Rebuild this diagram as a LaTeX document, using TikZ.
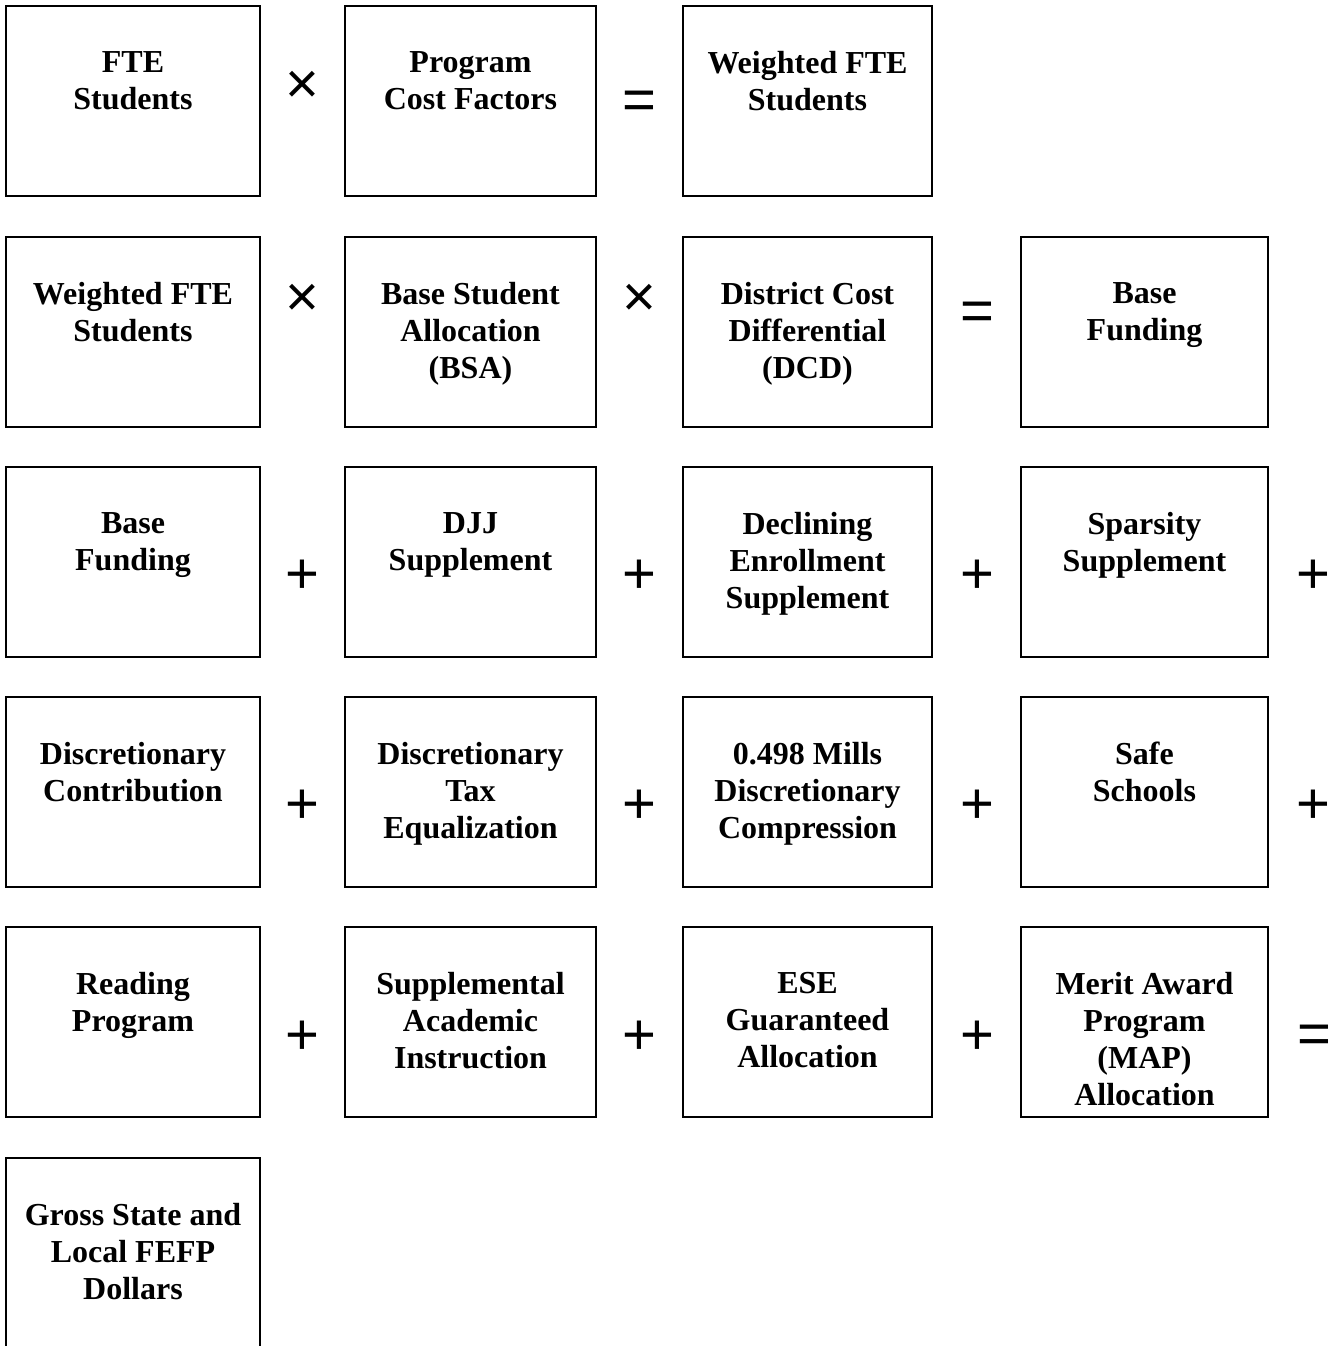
\documentclass[tikz,border=0pt]{standalone}
\usepackage{fontspec}
\setmainfont{Liberation Serif}
\newfontfamily\opfont{Liberation Sans}
\usepackage{tikz}
\usetikzlibrary{positioning}

\tikzset{
  cell/.style={draw, line width=2pt, inner sep=0pt, outer sep=0pt, minimum height=190pt},
  celltext/.style={anchor=north, align=center, inner sep=0pt, font=\bfseries\fontsize{32}{37}\selectfont},
  op/.style={inner sep=0pt, font=\opfont\fontsize{58}{58}\selectfont}
}

\begin{document}
\begin{tikzpicture}[x=1pt,y=-1pt]
\useasboundingbox (0,0) rectangle (1336,1346);
\clip (0,0) rectangle (1336,1346);

% row 1
\node[cell, minimum width=254pt] (fte) at (133,101) {};
\node[cell, minimum width=251pt] (pcf) at (470.5,101) {};
\node[cell, minimum width=249pt] (wfte) at (807.5,101) {};
\node[celltext] (fteT) at ([yshift=-45pt]fte.north) {FTE\\Students};
\node[celltext] (pcfT) at ([yshift=-45pt]pcf.north) {Program\\Cost Factors};
\node[celltext] (wfteT) at ([yshift=-45pt]wfte.north) {Weighted FTE\\Students};
\node[op] (op11) at (302,87) {×};
\node[op] (op12) at (639,105) {=};

% row 2
\node[cell, minimum width=254pt] (wfte2) at (133,332) {};
\node[cell, minimum width=251pt] (bsa) at (470.5,332) {};
\node[cell, minimum width=249pt] (dcd) at (807.5,332) {};
\node[cell, minimum width=247pt] (base) at (1144.5,332) {};
\node[celltext] (wfte2T) at ([yshift=-45pt]wfte2.north) {Weighted FTE\\Students};
\node[celltext] (bsaT) at ([yshift=-45pt]bsa.north) {Base Student\\Allocation\\(BSA)};
\node[celltext] (dcdT) at ([yshift=-45pt]dcd.north) {District Cost\\Differential\\(DCD)};
\node[celltext] (baseT) at ([yshift=-45pt]base.north) {Base\\Funding};
\node[op] (op21) at (302,300) {×};
\node[op] (op22) at (639,300) {×};
\node[op] (op23) at (977,316) {=};

% row 3
\node[cell, minimum width=254pt] (base2) at (133,562) {};
\node[cell, minimum width=251pt] (djj) at (470.5,562) {};
\node[cell, minimum width=249pt] (decl) at (807.5,562) {};
\node[cell, minimum width=247pt] (spars) at (1144.5,562) {};
\node[celltext] (base2T) at ([yshift=-45pt]base2.north) {Base\\Funding};
\node[celltext] (djjT) at ([yshift=-45pt]djj.north) {DJJ\\Supplement};
\node[celltext] (declT) at ([yshift=-45pt]decl.north) {Declining\\Enrollment\\Supplement};
\node[celltext] (sparsT) at ([yshift=-45pt]spars.north) {Sparsity\\Supplement};
\node[op] (op31) at (302,577) {+};
\node[op] (op32) at (639,577) {+};
\node[op] (op33) at (977,577) {+};
\node[op] (op34) at (1313,577) {+};

% row 4
\node[cell, minimum width=254pt] (dcon) at (133,792) {};
\node[cell, minimum width=251pt] (dtax) at (470.5,792) {};
\node[cell, minimum width=249pt] (mills) at (807.5,792) {};
\node[cell, minimum width=247pt] (safe) at (1144.5,792) {};
\node[celltext] (dconT) at ([yshift=-45pt]dcon.north) {Discretionary\\Contribution};
\node[celltext] (dtaxT) at ([yshift=-45pt]dtax.north) {Discretionary\\Tax\\Equalization};
\node[celltext] (millsT) at ([yshift=-45pt]mills.north) {0.498 Mills\\Discretionary\\Compression};
\node[celltext] (safeT) at ([yshift=-45pt]safe.north) {Safe\\Schools};
\node[op] (op41) at (302,807) {+};
\node[op] (op42) at (639,807) {+};
\node[op] (op43) at (977,807) {+};
\node[op] (op44) at (1313,807) {+};

% row 5
\node[cell, minimum width=254pt] (read) at (133,1022) {};
\node[cell, minimum width=251pt] (supp) at (470.5,1022) {};
\node[cell, minimum width=249pt] (ese) at (807.5,1022) {};
\node[cell, minimum width=247pt] (map) at (1144.5,1022) {};
\node[celltext] (readT) at ([yshift=-45pt]read.north) {Reading\\Program};
\node[celltext] (suppT) at ([yshift=-45pt]supp.north) {Supplemental\\Academic\\Instruction};
\node[celltext] (eseT) at ([yshift=-45pt]ese.north) {ESE\\Guaranteed\\Allocation};
\node[celltext] (mapT) at ([yshift=-45pt]map.north) {Merit Award\\Program\\(MAP)\\Allocation};
\node[op] (op51) at (302,1038) {+};
\node[op] (op52) at (639,1038) {+};
\node[op] (op53) at (977,1038) {+};
\node[op] (op54) at (1314,1039) {=};

% row 6
\node[cell, minimum width=254pt] (gross) at (133,1253) {};
\node[celltext] (grossT) at ([yshift=-45pt]gross.north) {Gross State and\\Local FEFP\\Dollars};
\end{tikzpicture}
\end{document}
